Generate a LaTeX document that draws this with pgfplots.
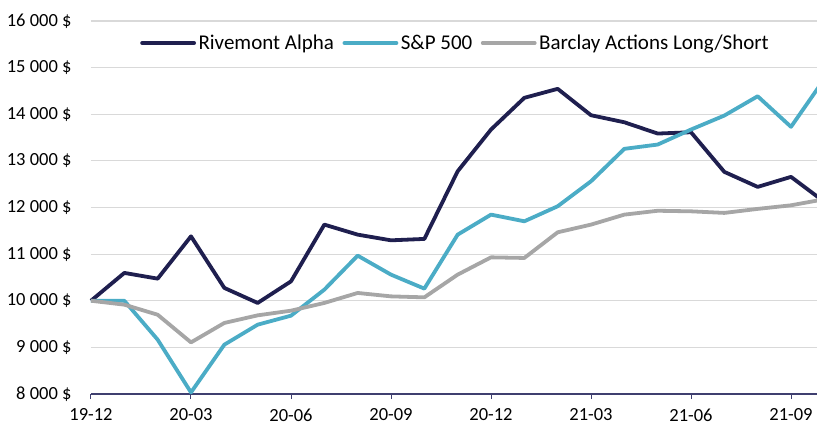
\documentclass[border=0pt]{standalone}
\usepackage{pgfplots}
\pgfplotsset{compat=1.18}
\usepackage{fontspec}
\setmainfont{Carlito}
\definecolor{riv}{HTML}{1F1F4F}
\definecolor{sp}{HTML}{4BACC6}
\definecolor{bar}{HTML}{A6A6A6}
\definecolor{axc}{HTML}{3F3F6F}
\definecolor{gridc}{HTML}{D9D9D9}
\begin{document}
\begin{tikzpicture}
\begin{axis}[
  scale only axis, width=726pt, height=373pt,
  xmin=0, xmax=21.78, ymin=8000, ymax=16000,
  clip=false, scaled y ticks=false,
  axis x line*=bottom, axis y line*=left,
  y axis line style={draw=none},
  x axis line style={axc, line width=1.2pt},
  xtick={0,3,6,9,12,15,18,21},
  xticklabels={19-12,20-03,20-06,20-09,20-12,21-03,21-06,21-09},
  ytick={8000,9000,10000,11000,12000,13000,14000,15000,16000},
  yticklabels={8 000 \$,9 000 \$,10 000 \$,11 000 \$,12 000 \$,13 000 \$,14 000 \$,15 000 \$,16 000 \$},
  ymajorgrids, grid style={gridc, line width=1.2pt},
  ytick style={draw=none},
  xtick style={axc, line width=1pt},
  tick align=outside, major tick length=5pt,
  ticklabel style={font=\fontsize{18.5}{20}\selectfont, text=black},
  yticklabel style={xshift=-11pt},
  xticklabel style={yshift=-6pt},
  legend style={at={(0.0675,0.941)}, anchor=west, draw=none, fill=none,
    font=\fontsize{21}{24}\selectfont, inner sep=0pt,
    nodes={inner xsep=2.5pt},
    /tikz/every even column/.append style={column sep=6pt}},
  legend columns=-1,
  legend image code/.code={\draw[#1, line cap=round] (0pt,0pt) -- (52pt,0pt);},
  every axis plot/.append style={line width=3.8pt, line join=round, mark=none},
]
\coordinate (bl) at (rel axis cs:0,0);
\coordinate (tr) at (rel axis cs:1,1);
\addplot[riv] coordinates {
(0,10000)(1,10597)(2,10474)(3,11382)(4,10275)(5,9953)(6,10416)(7,11633)(8,11418)(9,11296)(10,11326)
(11,12777)(12,13672)(13,14352)(14,14545)(15,13979)(16,13828)(17,13586)(18,13614)(19,12764)(20,12442)(21,12657)(22,12122)};
\addlegendentry{Rivemont Alpha}
\addplot[sp] coordinates {
(0,10000)(1,10000)(2,9165)(3,8034)(4,9058)(5,9487)(6,9680)(7,10238)(8,10968)(9,10560)(10,10260)
(11,11418)(12,11847)(13,11704)(14,12026)(15,12562)(16,13258)(17,13350)(18,13672)(19,13972)(20,14386)(21,13730)(22,14756)};
\addlegendentry{S\&P 500}
\addplot[bar] coordinates {
(0,10000)(1,9916)(2,9700)(3,9107)(4,9524)(5,9687)(6,9787)(7,9953)(8,10167)(9,10094)(10,10073)
(11,10560)(12,10931)(13,10918)(14,11468)(15,11633)(16,11847)(17,11930)(18,11918)(19,11884)(20,11970)(21,12047)(22,12177)};
\addlegendentry{Barclay Actions Long/Short}
\end{axis}
\pgfresetboundingbox
\path[use as bounding box] ([shift={(-91pt,-32pt)}]bl) rectangle ([shift={(0pt,21pt)}]tr);
\end{tikzpicture}
\end{document}
